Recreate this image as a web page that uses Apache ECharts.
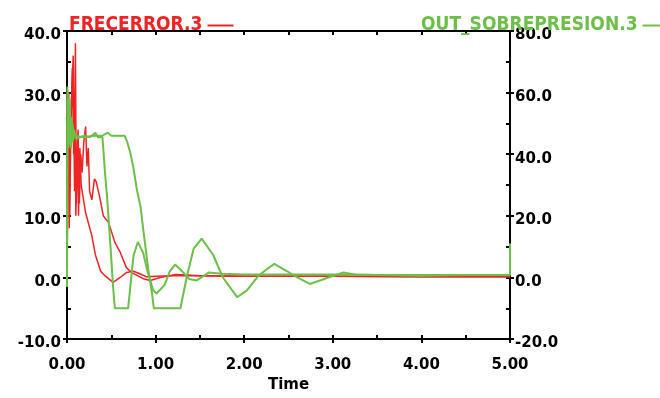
<!DOCTYPE html>
<html>
<head>
<meta charset="utf-8">
<script src="https://cdn.jsdelivr.net/npm/echarts@6/dist/echarts.min.js"></script>
<style>
  html, body { margin: 0; padding: 0; background: #fff; }
  #chart { width: 660px; height: 398px; }
</style>
</head>
<body>
<div id="chart"></div>
<script>
// time stamps / values
const redATime = [0, 0.005, 0.015, 0.025, 0.035, 0.05, 0.07, 0.085, 0.095, 0.105, 0.12, 0.13, 0.145, 0.16, 0.175, 0.21, 0.28, 0.32, 0.38, 0.43, 0.52, 0.6, 0.67, 0.75, 0.82, 0.9, 1.0, 1.2, 1.5, 2.0, 3.0, 4.0, 5.0];
const redA = [0, 29, 24, 8, 20, 28, 36, 14, 38, 12, 22, 10, 21, 15, 14.7, 10.5, 6.8, 3.7, 1.0, 0.25, -0.8, 0, 0.8, 1.0, 0.6, 0.1, 0.2, 0.3, 0.3, 0.2, 0.2, 0.1, 0.1];

const redBTime = [0, 0.01, 0.02, 0.03, 0.045, 0.06, 0.075, 0.09, 0.1, 0.11, 0.125, 0.14, 0.155, 0.17, 0.19, 0.21, 0.225, 0.24, 0.255, 0.28, 0.31, 0.33, 0.37, 0.41, 0.47, 0.54, 0.6, 0.67, 0.73, 0.86, 0.94, 1.05, 1.23, 1.5, 2.0, 3.0, 4.0, 5.0];
const redB = [0, 18, 30, 10, 25, 34, 20, 30, 10, 18, 24, 12, 20, 17, 22, 24.5, 18, 21, 14, 12.6, 16, 15.5, 13, 10, 8.9, 5.7, 4.1, 1.6, 0.8, -0.2, -0.5, 0, 0.5, 0.3, 0.2, 0.2, 0.1, 0.1];

const greenATime = [0, 0.005, 0.015, 0.025, 0.035, 0.05, 0.065, 0.08, 0.1, 0.15, 0.2, 0.26, 0.32, 0.35, 0.4, 0.43, 0.45, 0.49, 0.52, 0.54, 0.69, 0.75, 0.8, 0.86, 0.9, 0.97, 1.01, 1.1, 1.16, 1.22, 1.3, 1.38, 1.46, 1.6, 1.75, 2.0, 2.5, 3.0, 3.5, 4.0, 5.0];
const greenA = [-3, 62, 42, 56, 43, 52, 44, 48, 45, 45.5, 46, 45.5, 47, 45.5, 45.6, 33.5, 27, 10.5, -3, -10, -10, 7, 11.5, 8, 3, -4, -5.2, -2.5, 2, 4.2, 2, -0.5, -1, 1.6, 1.2, 1, 1, 1, 0.8, 0.8, 0.8];

const greenBTime = [0, 0.005, 0.02, 0.03, 0.045, 0.06, 0.08, 0.1, 0.2, 0.3, 0.4, 0.46, 0.5, 0.55, 0.65, 0.68, 0.71, 0.75, 0.79, 0.83, 0.86, 0.92, 0.96, 0.98, 1.28, 1.35, 1.43, 1.52, 1.65, 1.76, 1.92, 2.03, 2.16, 2.25, 2.34, 2.48, 2.6, 2.74, 3.0, 3.12, 3.25, 3.5, 4.0, 4.5, 5.0, 5.0];
const greenB = [-3, 60, 44, 58, 42, 50, 46, 46, 45.5, 46, 46, 47, 46, 46, 46, 44, 41, 35.6, 28.3, 23, 15.7, 2, -5.2, -10, -10, 0, 9.4, 12.6, 7.3, 0, -6.4, -4.2, 0.5, 2.6, 4.4, 2.1, 0, -2.1, 0.5, 1.6, 1, 0.8, 0.6, 0.8, 0.8, 11];

// axis ranges: labelled step, tick step
const leftTicks = { min: -10, max: 40, interval: 10, minor: 5 };
const rightTicks = { min: -20, max: 80, interval: 20, minor: 10 };
const timeTicks = { min: 0, max: 5, interval: 1, minor: 0.5 };

const RED = '#ee2424';
const GREEN = '#6cbf48';
const labelFont = { color: '#000', fontWeight: 'bold', fontSize: 15, fontFamily: '"DejaVu Sans", sans-serif' };
const legendFont = { fontWeight: 'bold', fontSize: 19, fontFamily: '"DejaVu Sans Condensed", "DejaVu Sans", sans-serif' };
const black = { color: '#000', width: 2 };

const pairs = (ts, vs) => ts.map((t, i) => [t, vs[i]]);
const onStep = (v, step) => Math.abs(v / step - Math.round(v / step)) < 1e-6;

// y labels sit a little below their tick, as in the original plot
const yLabel = step => v => (onStep(v, step) ? '{v|' + v.toFixed(1) + '}' : '');
const yRich = { v: Object.assign({ padding: [9, 0, 0, 0] }, labelFont) };

// an axis that only adds outward ticks at the labelled positions
const outerTicks = (base, pos) => Object.assign({
  type: 'value', position: pos,
  axisLine: { show: false, onZero: false },
  axisTick: { show: true, inside: false, length: 4, lineStyle: black },
  axisLabel: { show: false },
  splitLine: { show: false },
}, base);

const myChart = echarts.init(document.getElementById('chart'), null, { renderer: 'canvas' });
myChart.setOption({
  animation: false,
  legend: [
    {
      data: [{ name: 'FRECERROR.3', icon: 'rect' }],
      left: 64, top: 11,
      align: 'right', itemWidth: 26, itemHeight: 2, itemGap: 0,
      textStyle: Object.assign({ color: RED }, legendFont),
    },
    {
      data: [{ name: 'OUT_SOBREPRESION.3', icon: 'rect' }],
      left: 416, top: 11,
      align: 'right', itemWidth: 18, itemHeight: 2, itemGap: 0,
      textStyle: Object.assign({ color: GREEN }, legendFont),
    },
  ],
  grid: { left: 67, right: 150, top: 31, bottom: 52, containLabel: false },
  xAxis: [
    {
      type: 'value', position: 'bottom',
      min: timeTicks.min, max: timeTicks.max, interval: timeTicks.minor,
      name: 'Time', nameLocation: 'middle', nameGap: 36,
      nameTextStyle: labelFont,
      axisLine: { onZero: false, lineStyle: black },
      axisTick: { inside: true, length: 4, lineStyle: black },
      splitLine: { show: false },
      axisLabel: Object.assign({
        margin: 19,
        formatter: v => (onStep(v, timeTicks.interval) ? v.toFixed(2) : ''),
      }, labelFont),
    },
    outerTicks({ min: timeTicks.min, max: timeTicks.max, interval: timeTicks.interval }, 'bottom'),
    {
      type: 'value', position: 'top',
      min: timeTicks.min, max: timeTicks.max, interval: timeTicks.minor,
      axisLine: { onZero: false, lineStyle: black },
      axisTick: { inside: true, length: 4, lineStyle: black },
      splitLine: { show: false },
      axisLabel: { show: false },
    },
  ],
  yAxis: [
    {
      type: 'value', position: 'left',
      min: leftTicks.min, max: leftTicks.max, interval: leftTicks.minor,
      axisLine: { show: true, onZero: false, lineStyle: black },
      axisTick: { show: true, inside: true, length: 4, lineStyle: black },
      splitLine: { show: false },
      axisLabel: { margin: 6, formatter: yLabel(leftTicks.interval), rich: yRich },
    },
    {
      type: 'value', position: 'right',
      min: rightTicks.min, max: rightTicks.max, interval: rightTicks.minor,
      axisLine: { show: true, onZero: false, lineStyle: black },
      axisTick: { show: true, inside: true, length: 4, lineStyle: black },
      splitLine: { show: false },
      axisLabel: { margin: 5, formatter: yLabel(rightTicks.interval), rich: yRich },
    },
    outerTicks({ min: leftTicks.min, max: leftTicks.max, interval: leftTicks.interval }, 'left'),
    outerTicks({ min: rightTicks.min, max: rightTicks.max, interval: rightTicks.interval }, 'right'),
  ],
  series: [
    {
      name: 'FRECERROR.2', type: 'line', yAxisIndex: 0, showSymbol: false,
      data: pairs(redATime, redA), lineStyle: { color: RED, width: 1.5 }, itemStyle: { color: RED },
    },
    {
      name: 'FRECERROR.3', type: 'line', yAxisIndex: 0, showSymbol: false,
      data: pairs(redBTime, redB), lineStyle: { color: RED, width: 1.5 }, itemStyle: { color: RED },
    },
    {
      name: 'OUT_SOBREPRESION.2', type: 'line', yAxisIndex: 1, showSymbol: false,
      data: pairs(greenATime, greenA), lineStyle: { color: GREEN, width: 2 }, itemStyle: { color: GREEN },
    },
    {
      name: 'OUT_SOBREPRESION.3', type: 'line', yAxisIndex: 1, showSymbol: false,
      data: pairs(greenBTime, greenB), lineStyle: { color: GREEN, width: 2 }, itemStyle: { color: GREEN },
    },
  ],
});
window.onresize = function () {
  myChart.resize();
};
</script>
</body>
</html>
